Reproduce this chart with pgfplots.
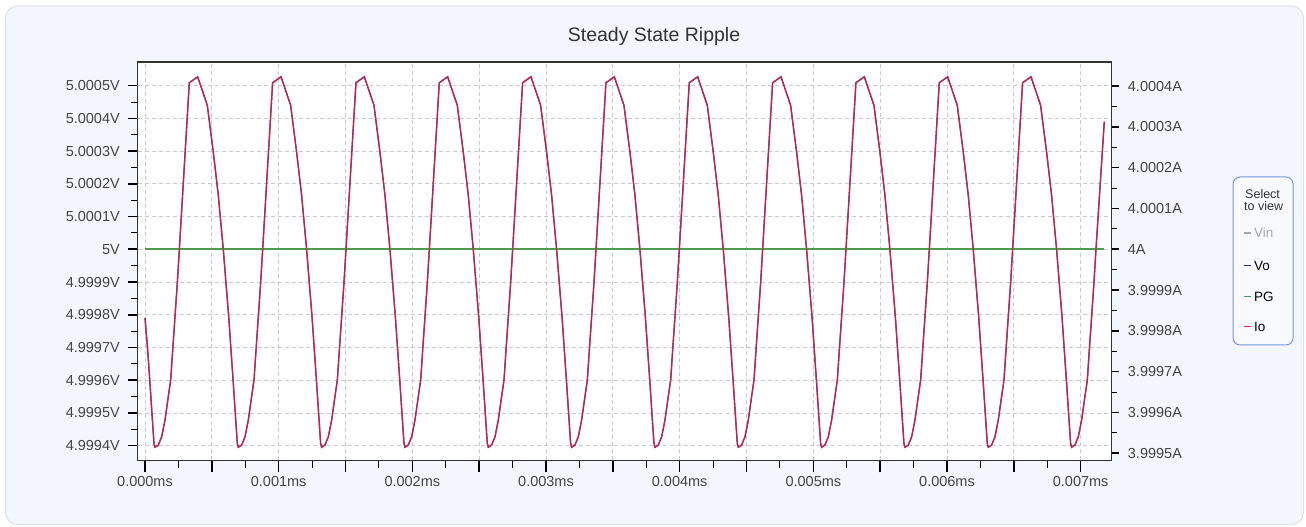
\documentclass[border=0pt]{standalone}
\usepackage{pgfplots}
\pgfplotsset{compat=1.18}
\usepackage{pgfplotstable}
\usepackage{fontspec}
\setmainfont{Liberation Sans}
\definecolor{cardbg}{HTML}{F3F6FD}
\definecolor{cardborder}{HTML}{DDE2EC}
\definecolor{axisc}{HTML}{333333}
\definecolor{tickc}{HTML}{444444}
\definecolor{gridc}{HTML}{C9C9C9}
\definecolor{voc}{HTML}{2B2BA0}
\definecolor{ioc}{HTML}{E0203C}
\definecolor{pgc}{HTML}{4E9A4E}
\definecolor{vinc}{HTML}{A8A8A8}
\definecolor{legborder}{HTML}{7496DC}
% t in us (0.001 ms); dV = Vo - 5 V in uV; dI = Io - 4 A in uA
\pgfplotstableread{
t dV dI
0 -210 -168
0.0200 -308 -247
0.0372 -409 -328
0.0521 -501 -402
0.0671 -593 -475
0.0748 -605 -485
0.0995 -598 -480
0.1249 -573 -459
0.1496 -522 -418
0.1743 -450 -361
0.1923 -399 -320
0.2072 -308 -247
0.2244 -206 -165
0.2416 -104 -83
0.2566 -2 -2
0.3314 509 408
0.3942 527 423
0.4661 440 353
0.5109 297 238
0.5484 165 132
0.5858 -1 -1
0.6060 -104 -83
0.6262 -206 -165
0.6434 -308 -247
0.6606 -409 -328
0.6755 -501 -402
0.6905 -593 -475
0.6982 -605 -485
0.7229 -598 -480
0.7483 -573 -459
0.7730 -522 -418
0.7977 -450 -361
0.8157 -399 -320
0.8306 -308 -247
0.8478 -206 -165
0.8650 -104 -83
0.8800 -2 -2
0.9548 509 408
1.0176 527 423
1.0895 440 353
1.1343 297 238
1.1718 165 132
1.2092 -1 -1
1.2294 -104 -83
1.2496 -206 -165
1.2668 -308 -247
1.2840 -409 -328
1.2989 -501 -402
1.3139 -593 -475
1.3216 -605 -485
1.3463 -598 -480
1.3717 -573 -459
1.3964 -522 -418
1.4211 -450 -361
1.4391 -399 -320
1.4540 -308 -247
1.4712 -206 -165
1.4884 -104 -83
1.5034 -2 -2
1.5782 509 408
1.6410 527 423
1.7129 440 353
1.7577 297 238
1.7952 165 132
1.8326 -1 -1
1.8528 -104 -83
1.8730 -206 -165
1.8902 -308 -247
1.9074 -409 -328
1.9223 -501 -402
1.9373 -593 -475
1.9450 -605 -485
1.9697 -598 -480
1.9951 -573 -459
2.0198 -522 -418
2.0445 -450 -361
2.0625 -399 -320
2.0774 -308 -247
2.0946 -206 -165
2.1118 -104 -83
2.1268 -2 -2
2.2016 509 408
2.2644 527 423
2.3363 440 353
2.3811 297 238
2.4186 165 132
2.4560 -1 -1
2.4762 -104 -83
2.4964 -206 -165
2.5136 -308 -247
2.5308 -409 -328
2.5457 -501 -402
2.5607 -593 -475
2.5684 -605 -485
2.5931 -598 -480
2.6185 -573 -459
2.6432 -522 -418
2.6679 -450 -361
2.6859 -399 -320
2.7008 -308 -247
2.7180 -206 -165
2.7352 -104 -83
2.7502 -2 -2
2.8250 509 408
2.8878 527 423
2.9597 440 353
3.0045 297 238
3.0420 165 132
3.0794 -1 -1
3.0996 -104 -83
3.1198 -206 -165
3.1370 -308 -247
3.1542 -409 -328
3.1691 -501 -402
3.1841 -593 -475
3.1918 -605 -485
3.2165 -598 -480
3.2419 -573 -459
3.2666 -522 -418
3.2913 -450 -361
3.3093 -399 -320
3.3242 -308 -247
3.3414 -206 -165
3.3586 -104 -83
3.3736 -2 -2
3.4484 509 408
3.5112 527 423
3.5831 440 353
3.6279 297 238
3.6654 165 132
3.7028 -1 -1
3.7230 -104 -83
3.7432 -206 -165
3.7604 -308 -247
3.7776 -409 -328
3.7925 -501 -402
3.8075 -593 -475
3.8152 -605 -485
3.8399 -598 -480
3.8653 -573 -459
3.8900 -522 -418
3.9147 -450 -361
3.9327 -399 -320
3.9476 -308 -247
3.9648 -206 -165
3.9820 -104 -83
3.9970 -2 -2
4.0718 509 408
4.1346 527 423
4.2065 440 353
4.2513 297 238
4.2888 165 132
4.3262 -1 -1
4.3464 -104 -83
4.3666 -206 -165
4.3838 -308 -247
4.4010 -409 -328
4.4159 -501 -402
4.4309 -593 -475
4.4386 -605 -485
4.4633 -598 -480
4.4887 -573 -459
4.5134 -522 -418
4.5381 -450 -361
4.5561 -399 -320
4.5710 -308 -247
4.5882 -206 -165
4.6054 -104 -83
4.6204 -2 -2
4.6952 509 408
4.7580 527 423
4.8299 440 353
4.8747 297 238
4.9122 165 132
4.9496 -1 -1
4.9698 -104 -83
4.9900 -206 -165
5.0072 -308 -247
5.0244 -409 -328
5.0393 -501 -402
5.0543 -593 -475
5.0620 -605 -485
5.0867 -598 -480
5.1121 -573 -459
5.1368 -522 -418
5.1615 -450 -361
5.1795 -399 -320
5.1944 -308 -247
5.2116 -206 -165
5.2288 -104 -83
5.2438 -2 -2
5.3186 509 408
5.3814 527 423
5.4533 440 353
5.4981 297 238
5.5356 165 132
5.5730 -1 -1
5.5932 -104 -83
5.6134 -206 -165
5.6306 -308 -247
5.6478 -409 -328
5.6627 -501 -402
5.6777 -593 -475
5.6854 -605 -485
5.7101 -598 -480
5.7355 -573 -459
5.7602 -522 -418
5.7849 -450 -361
5.8029 -399 -320
5.8178 -308 -247
5.8350 -206 -165
5.8522 -104 -83
5.8672 -2 -2
5.9420 509 408
6.0048 527 423
6.0767 440 353
6.1215 297 238
6.1590 165 132
6.1964 -1 -1
6.2166 -104 -83
6.2368 -206 -165
6.2540 -308 -247
6.2712 -409 -328
6.2861 -501 -402
6.3011 -593 -475
6.3088 -605 -485
6.3335 -598 -480
6.3589 -573 -459
6.3836 -522 -418
6.4083 -450 -361
6.4263 -399 -320
6.4412 -308 -247
6.4584 -206 -165
6.4756 -104 -83
6.4906 -2 -2
6.5654 509 408
6.6282 527 423
6.7001 440 353
6.7449 297 238
6.7824 165 132
6.8198 -1 -1
6.8400 -104 -83
6.8602 -206 -165
6.8774 -308 -247
6.8946 -409 -328
6.9095 -501 -402
6.9245 -593 -475
6.9322 -605 -485
6.9569 -598 -480
6.9823 -573 -459
7.0070 -522 -418
7.0317 -450 -361
7.0497 -399 -320
7.0646 -308 -247
7.0818 -206 -165
7.0990 -104 -83
7.1140 -2 -2
7.1766 390 313
}\ripple
% PG = 5 V (deviation 0 uV)
\pgfplotstableread{
t dV
0 0
7.1766 0
}\pgtable
\pgfplotsset{
  base/.style={
    scale only axis, width=974.2pt, height=398.3pt,
    at={(137.5pt,66.7pt)}, anchor=south west,
    xmin=-0.0561, xmax=7.2321,
    tick align=outside,
    axis line style={draw=axisc, line width=1.1pt},
    every tick label/.append style={text=tickc, font=\fontsize{14.5}{17}\selectfont},
    every major tick/.append style={line width=1.6pt, black},
    every minor tick/.append style={line width=1pt, black},
  },
}
\begin{document}
\begin{tikzpicture}[x=1pt,y=1pt]
\path[use as bounding box] (0,0) rectangle (1306,527);
\fill[white] (0,0) rectangle (1306,527);
\draw[cardborder, fill=cardbg, line width=1pt, rounded corners=12pt] (5.5,2.5) rectangle (1303.5,521);
\node[text=axisc, font=\fontsize{19.5}{23}\selectfont, anchor=base] at (654,485.3) {Steady State Ripple};

% main axis: grid, x ticks, Vo and PG
\begin{axis}[base,
  ymin=-644.7, ymax=572.3,
  axis background/.style={fill=white},
  xtick={0,0.5,1,1.5,2,2.5,3,3.5,4,4.5,5,5.5,6,6.5,7},
  xticklabels={0.000ms,{},0.001ms,{},0.002ms,{},0.003ms,{},0.004ms,{},0.005ms,{},0.006ms,{},0.007ms},
  minor x tick num=1,
  xtick pos=bottom,
  major tick length=12pt, minor tick length=8pt,
  xticklabel style={inner sep=0pt, yshift=-4pt},
  ytick={-600,-500,-400,-300,-200,-100,0,100,200,300,400,500},
  yticklabel=\empty,
  ytick style={draw=none},
  grid=major,
  major grid style={draw=gridc, line width=0.8pt, dash pattern=on 4pt off 3pt},
]
\addplot[voc, line width=1.3pt] table[x=t, y=dV] {\ripple};
\addplot[pgc, line width=1.8pt] table[x=t, y=dV] {\pgtable};
\end{axis}

% right axis: Io
\begin{axis}[base,
  ymin=-517.2, ymax=459.1,
  axis x line=none, axis y line*=right,
  ytick={-500,-400,-300,-200,-100,0,100,200,300,400},
  yticklabels={3.9995A,3.9996A,3.9997A,3.9998A,3.9999A,4A,4.0001A,4.0002A,4.0003A,4.0004A},
  minor y tick num=1,
  major tick length=7pt, minor tick length=5pt,
  yticklabel style={inner sep=0pt, xshift=9pt},
]
\addplot[ioc, line width=1.3pt, opacity=0.85] table[x=t, y=dI] {\ripple};
\end{axis}

% left axis ticks and labels
\begin{axis}[base,
  ymin=-644.7, ymax=572.3,
  axis x line=none, axis y line*=left,
  ytick={-600,-500,-400,-300,-200,-100,0,100,200,300,400,500},
  yticklabels={4.9994V,4.9995V,4.9996V,4.9997V,4.9998V,4.9999V,5V,5.0001V,5.0002V,5.0003V,5.0004V,5.0005V},
  minor y tick num=1,
  major tick length=9pt, minor tick length=6pt,
  yticklabel style={inner sep=0pt, xshift=-8.5pt},
]
\end{axis}

% selector box
\draw[legborder, fill=white, fill opacity=0.5, line width=1pt, rounded corners=7pt] (1233,182) rectangle (1293,350);
\node[anchor=base west, inner sep=0pt, text=axisc, font=\fontsize{12.5}{14}\selectfont] at (1245,328) {Select};
\node[anchor=base west, inner sep=0pt, text=axisc, font=\fontsize{12.5}{14}\selectfont] at (1244,316) {to view};
\draw[vinc, line width=1.1pt] (1244,294) -- (1250.5,294);
\node[anchor=west, inner sep=0pt, text=vinc, font=\fontsize{13.5}{15}\selectfont] at (1254,294) {Vin};
\draw[voc, line width=1.1pt] (1244,261.5) -- (1250.5,261.5);
\node[anchor=west, inner sep=0pt, text=black, font=\fontsize{13.5}{15}\selectfont] at (1254,261.5) {Vo};
\draw[pgc, line width=1.1pt] (1244,230.5) -- (1250.5,230.5);
\node[anchor=west, inner sep=0pt, text=black, font=\fontsize{13.5}{15}\selectfont] at (1254,230.5) {PG};
\draw[ioc, line width=1.1pt] (1244,200.5) -- (1250.5,200.5);
\node[anchor=west, inner sep=0pt, text=black, font=\fontsize{13.5}{15}\selectfont] at (1254,200.5) {Io};
\end{tikzpicture}
\end{document}
